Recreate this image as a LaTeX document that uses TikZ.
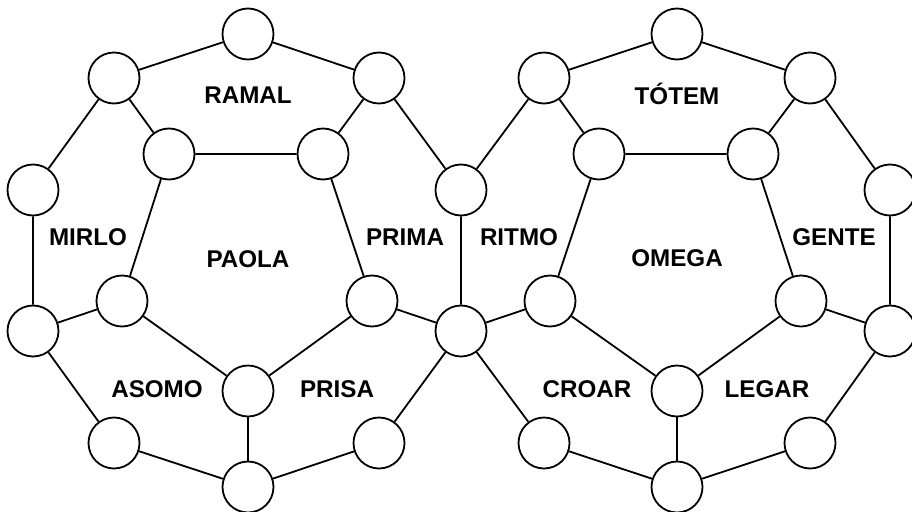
\documentclass[tikz,border=0pt]{standalone}
\usepackage{fontspec}
\setmainfont{Liberation Sans}
\usepackage{tikz}

\begin{document}
\begin{tikzpicture}[x=1pt,y=-1pt,line width=1.8pt,
		vertex/.style={circle,draw,fill=white,minimum size=51pt,inner sep=0pt},
		word/.style={font=\fontsize{24.2}{28}\selectfont\bfseries}]
		\useasboundingbox (0,0) rectangle (912,511);

		% left ring
		\node[vertex] (lt) at (248,34) {};
		\node[vertex] (lur) at (379,78) {};
		\node[vertex] (s1) at (461,190) {};
		\node[vertex] (s2) at (461,331) {};
		\node[vertex] (lbr) at (379,443) {};
		\node[vertex] (lb) at (248,487) {};
		\node[vertex] (lbl) at (114,443) {};
		\node[vertex] (llo) at (33,331) {};
		\node[vertex] (lhi) at (33,190) {};
		\node[vertex] (lul) at (114,78) {};

		% left inner pentagon
		\node[vertex] (la) at (169,154) {};
		\node[vertex] (lb2) at (323,154) {};
		\node[vertex] (lc) at (372,301) {};
		\node[vertex] (ld) at (248,391) {};
		\node[vertex] (le) at (122,301) {};

		% right ring
		\node[vertex] (rt) at (677,34) {};
		\node[vertex] (rur) at (810,78) {};
		\node[vertex] (rhi) at (890,190) {};
		\node[vertex] (rlo) at (890,331) {};
		\node[vertex] (rbr) at (810,443) {};
		\node[vertex] (rb) at (677,487) {};
		\node[vertex] (rbl) at (544,443) {};
		\node[vertex] (rul) at (544,78) {};

		% right inner pentagon
		\node[vertex] (ra) at (599,154) {};
		\node[vertex] (rb2) at (753,154) {};
		\node[vertex] (rc) at (801,301) {};
		\node[vertex] (rd) at (677,391) {};
		\node[vertex] (re) at (550,301) {};

		\draw (lt) -- (lur) -- (s1) -- (s2) -- (lbr) -- (lb) -- (lbl) -- (llo) -- (lhi) -- (lul) -- (lt);
		\draw (la) -- (lb2) -- (lc) -- (ld) -- (le) -- (la);
		\draw (la) -- (lul);
		\draw (lb2) -- (lur);
		\draw (lc) -- (s2);
		\draw (ld) -- (lb);
		\draw (le) -- (llo);

		\draw (rt) -- (rur) -- (rhi) -- (rlo) -- (rbr) -- (rb) -- (rbl) -- (s2);
		\draw (s1) -- (rul) -- (rt);
		\draw (ra) -- (rb2) -- (rc) -- (rd) -- (re) -- (ra);
		\draw (ra) -- (rul);
		\draw (rb2) -- (rur);
		\draw (rc) -- (rlo);
		\draw (rd) -- (rb);
		\draw (re) -- (s2);

		\node[word] (ramal) at (248,95) {RAMAL};
		\node[word] (mirlo) at (88,237) {MIRLO};
		\node[word] (paola) at (248,259) {PAOLA};
		\node[word] (prima) at (405,237) {PRIMA};
		\node[word] (asomo) at (157,389) {ASOMO};
		\node[word] (prisa) at (337,389) {PRISA};

		\node[word] (totem) at (677,94) {TÓTEM};
		\node[word] (ritmo) at (519,237) {RITMO};
		\node[word] (omega) at (677,258) {OMEGA};
		\node[word] (gente) at (834,237) {GENTE};
		\node[word] (croar) at (587,389) {CROAR};
		\node[word] (legar) at (767,389) {LEGAR};
	\end{tikzpicture}
\end{document}
